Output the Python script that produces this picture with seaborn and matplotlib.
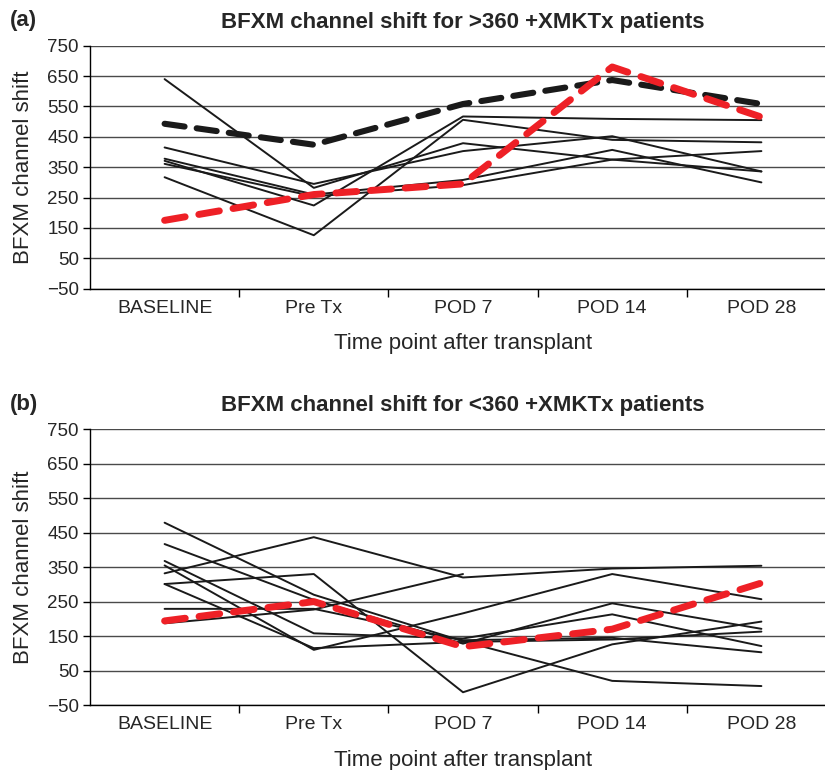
import numpy as np
import pandas as pd
import matplotlib
matplotlib.use("Agg")
import matplotlib.pyplot as plt
import seaborn as sns

categories = ["BASELINE", "Pre Tx", "POD 7", "POD 14", "POD 28"]
yticks = [-50, 50, 150, 250, 350, 450, 550, 650, 750]

# Panel (a): >360 +XMKTx patients
a_patients = [
    [640, 282, 429, 375, 336],
    [415, 295, 403, 452, 336],
    [378, 260, 308, 407, 300],
    [371, 224, 517, 509, 505],
    [361, 254, 291, 375, 403],
    [317, 126, 506, 440, 432],
]
a_black_dashed = [493, 424, 558, 637, 558]
a_red_dashed = [175, 260, 295, 680, 515]

# Panel (b): <360 +XMKTx patients
b_patients = [
    [479, 270, 135, 20, 5],
    [417, 255, 128, 245, 171],
    [368, 158, 143, 213, 121],
    [355, 110, 216, 330, 257],
    [332, 437, 320, 346, 354],
    [301, 330, -13, 126, 192],
    [301, 115, 133, 140, 163],
    [229, 229, 138, 145, 103],
    [187, 227, 330, np.nan, np.nan],
]
b_red_dashed = [194, 250, 119, 170, 304]

titles = ["BFXM channel shift for >360 +XMKTx patients",
          "BFXM channel shift for <360 +XMKTx patients"]
panel_labels = ["(a)", "(b)"]

sns.set_style("white")
plt.rcParams["font.family"] = ["Liberation Sans", "DejaVu Sans"]

W, H = 825, 770
fig = plt.figure(figsize=(W / 100, H / 100), dpi=100)

def to_long(series_list):
    rows = []
    for i, s in enumerate(series_list):
        for j, v in enumerate(s):
            rows.append({"patient": i, "pos": j, "value": v})
    return pd.DataFrame(rows).dropna()

def single(series):
    return pd.DataFrame({"pos": range(len(series)), "value": series})

left_px, right_px = 90, 836
panels = [(45.7, 288.7), (429.3, 705.0)]

for k, (top_px, bot_px) in enumerate(panels):
    ax = fig.add_axes([left_px / W, 1 - bot_px / H,
                       (right_px - left_px) / W, (bot_px - top_px) / H])
    ax.set_axisbelow(True)
    for yv in yticks:
        ax.axhline(yv, color="#4a4a4a", lw=1.0, zorder=0)
    if k == 0:
        sns.lineplot(data=to_long(a_patients), x="pos", y="value", units="patient",
                     estimator=None, color="#1a1a1a", lw=1.4, ax=ax, legend=False)
        sns.lineplot(data=single(a_black_dashed), x="pos", y="value", ax=ax,
                     color="#1a1a1a", lw=4.4, legend=False)
        ax.lines[-1].set_dashes([3.3, 2.0])
        ax.lines[-1].set_dash_capstyle("round")
        sns.lineplot(data=single(a_red_dashed), x="pos", y="value", ax=ax,
                     color="#ee2026", lw=5.0, legend=False)
        ax.lines[-1].set_dashes([3.0, 2.0])
        ax.lines[-1].set_dash_capstyle("round")
    else:
        sns.lineplot(data=to_long(b_patients), x="pos", y="value", units="patient",
                     estimator=None, color="#1a1a1a", lw=1.4, ax=ax, legend=False)
        sns.lineplot(data=single(b_red_dashed), x="pos", y="value", ax=ax,
                     color="#ee2026", lw=5.0, legend=False)
        ax.lines[-1].set_dashes([3.0, 2.0])
        ax.lines[-1].set_dash_capstyle("round")

    ax.set_xlim(-0.5, 4.5)
    ax.set_ylim(-50, 750)
    ax.set_yticks(yticks)
    ax.set_yticklabels(["\u221250" if v < 0 else str(v) for v in yticks], fontsize=13.5)
    ax.set_xticks(range(len(categories)))
    ax.set_xticklabels(categories, fontsize=14)
    ax.set_xticks([0.5, 1.5, 2.5, 3.5], minor=True)
    ax.tick_params(axis="x", which="major", length=0, pad=8)
    ax.tick_params(axis="x", which="minor", length=6, width=1, color="black", direction="out")
    ax.tick_params(axis="y", length=5, width=1, color="black", direction="out", pad=3)
    ax.yaxis.set_ticks_position("left")
    ax.xaxis.set_ticks_position("bottom")
    for side in ["top", "right"]:
        ax.spines[side].set_visible(False)
    for side in ["left", "bottom"]:
        ax.spines[side].set_color("black")
        ax.spines[side].set_linewidth(1.0)
    ax.set_xlabel("Time point after transplant", fontsize=16, labelpad=12)
    ax.set_ylabel("BFXM channel shift", fontsize=16, labelpad=9)
    ax.set_title(titles[k], fontsize=16, fontweight="bold", pad=13,
                 x=(463 - left_px) / (right_px - left_px))
    fig.text(10 / W, 1 - (top_px - 25) / H, panel_labels[k], fontsize=16,
             fontweight="bold", va="center", ha="left")

fig.savefig("out.png", dpi=100)
